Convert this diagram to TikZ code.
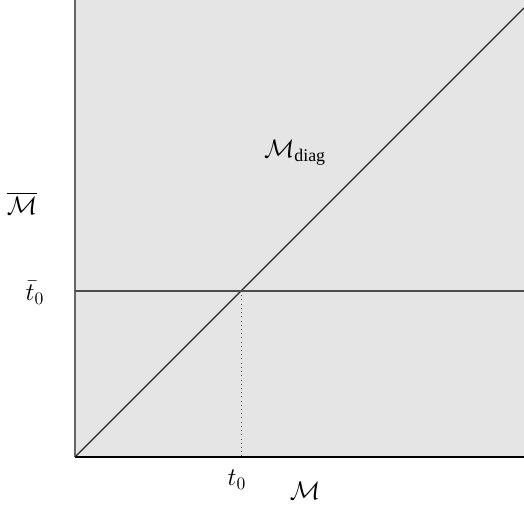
\documentclass[tikz,border=0pt]{standalone}
\usepackage{amsmath}
\usepackage{fontspec}
\setmainfont{Liberation Serif}
\usetikzlibrary{positioning, calc}

\begin{document}
\begin{tikzpicture}[x=0.02cm, y=0.02cm, font=\fontsize{14.5}{17}\selectfont,
    axis/.style={line width=1.3pt},
    lbl/.style={inner sep=1pt}]

    % Fixed frame with margins
    \useasboundingbox (-75,-49) rectangle (449,457);

    % Square region
    \fill[gray!20] (0,0) rectangle (449,457);
    \coordinate (origin) at (0,0);
    \coordinate (xend) at (449,0);
    \coordinate (yend) at (0,457);
    \coordinate (diagend) at (449,449);
    \coordinate (tbar) at (0,166);
    \coordinate (tbarend) at (449,166);
    \coordinate (meet) at (166,166);
    \coordinate (tfoot) at (166,0);

    % Axes
    \draw[axis, black!60] (origin) -- (yend);
    \draw[axis] (origin) -- (xend);

    % Diagonal and level line
    \draw[line width=0.8pt, black!85] (origin) -- (diagend);
    \draw[line width=0.7pt, black!70] (tbar) -- (tbarend);
    \draw[dotted, black!70] (meet) -- (tfoot);

    % Labels
    \node (diaglbl) [lbl] at (220,304) {$\mathcal{M}_{\text{diag}}$};
    \node (ylbl) [lbl] at (-53,254) {$\overline{\mathcal{M}}$};
    \node (tbarlbl) [lbl] at (-40,164) {$\bar{t}_0$};
    \node (tlbl) [lbl] at (162,-23) {$t_0$};
    \node (xlbl) [lbl] at (230,-34) {$\mathcal{M}$};
\end{tikzpicture}
\end{document}
